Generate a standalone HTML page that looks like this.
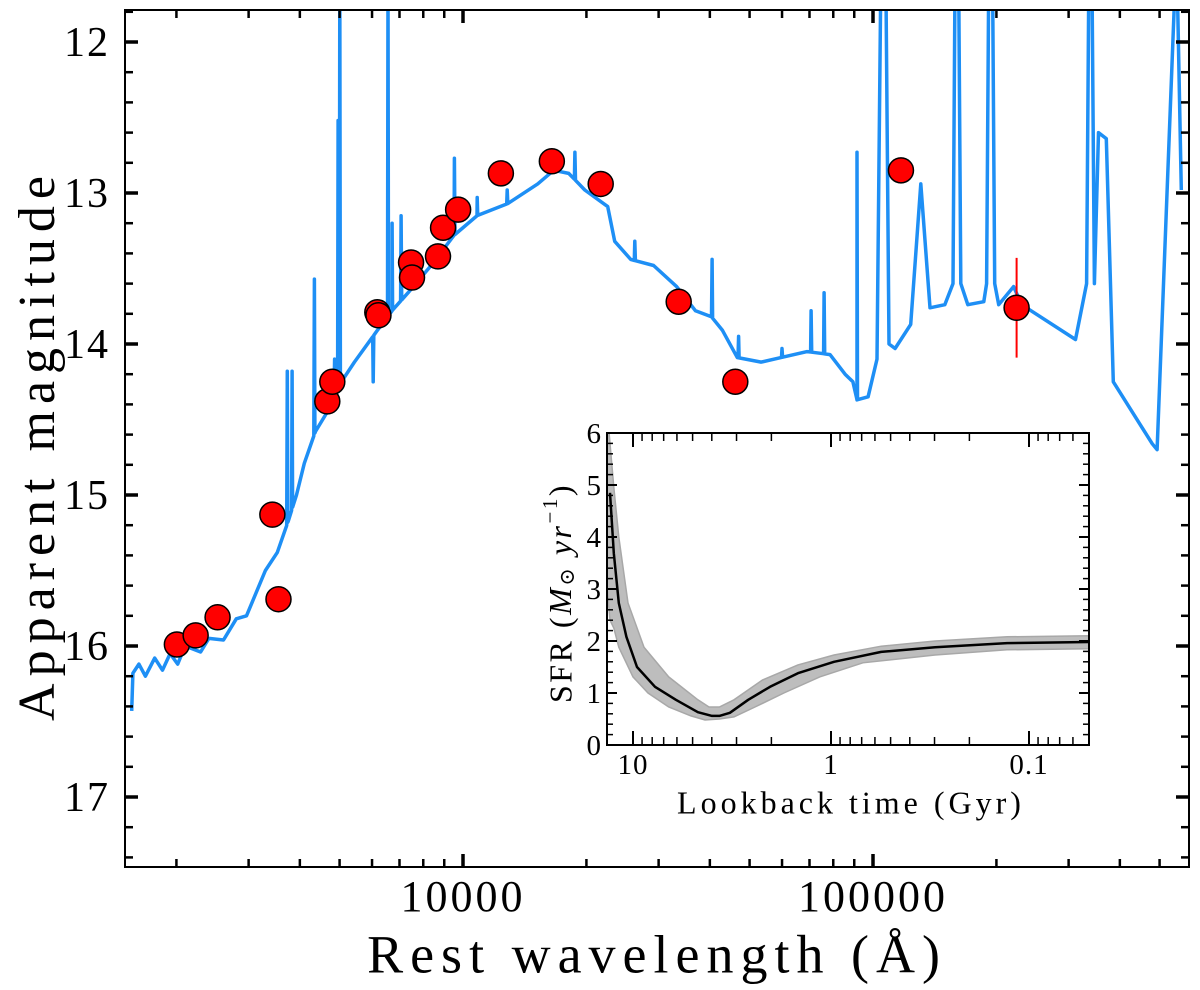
<!DOCTYPE html>
<html><head><meta charset="utf-8">
<style>
html,body{margin:0;padding:0;background:#fff;}
svg{display:block;font-family:"Liberation Serif","DejaVu Serif",serif;}
</style></head>
<body>
<svg id="chart" width="1200" height="990" viewBox="0 0 1200 990" xmlns="http://www.w3.org/2000/svg">
<defs>
<clipPath id="mainClip"><rect x="125" y="10" width="1064" height="857"/></clipPath>
<clipPath id="insetClip"><rect x="607" y="433" width="482" height="312"/></clipPath>
</defs>
<rect x="0" y="0" width="1200" height="990" fill="#fff"/>
<g id="main"></g>
<g id="inset"></g>
<text x="42" y="445" transform="rotate(-90 42 445)" text-anchor="middle" dominant-baseline="middle" font-size="52" letter-spacing="7">Apparent magnitude</text>
<text x="657" y="960" text-anchor="middle" dominant-baseline="middle" font-size="54" letter-spacing="7">Rest wavelength (Å)</text>
<text x="564" y="593" transform="rotate(-90 564 593)" text-anchor="middle" dominant-baseline="middle" font-size="32" letter-spacing="2.5">SFR (<tspan font-style="italic">M</tspan><tspan font-size="21" dy="5">⊙</tspan><tspan dy="-5"> </tspan><tspan font-style="italic">yr</tspan><tspan font-size="21" dy="-12">−1</tspan><tspan dy="12">)</tspan></text>
<text x="851" y="806" text-anchor="middle" dominant-baseline="middle" font-size="32" letter-spacing="4">Lookback time (Gyr)</text>
</svg>
<script>
// ---------- main plot data ----------
const photLam = [2005,2228,2520,3428,3548,4667,4800,6180,6220,7470,7510,8690,8940,9730,12370,16470,21670,33580,46150,117000,224000];
const photMag = [15.99,15.93,15.81,15.13,15.69,14.38,14.25,13.79,13.81,13.46,13.56,13.42,13.23,13.11,12.87,12.79,12.94,13.72,14.25,12.85,13.76];
const photErr = [0,0,0,0,0,0,0,0,0,0,0,0,0,0,0,0,0,0,0,0,0.33];
const contLam = [1556,1566,1620,1680,1770,1850,1930,2014,2100,2291,2400,2606,2800,2965,3296,3525,3750,3926,4102,4365,4667,4966,5433,6180,6715,7345,8360,9510,10820,12860,15210,16640,18110,19820,22540,23440,25640,29170,33190,36900,40360,42950,46670,53370,69050,78550,85500,89350,91400,97300,102300,104500,107500,109400,113200,123600,130800,137700,149700,156700,158500,161800,163700,170300,186300,189300,191500,195800,198100,202600,220300,230500,311900,331800,336000,342000,346700,354800,370700,385500,479700,493200,545800,552000,564900];
const contMag = [16.43,16.18,16.12,16.2,16.08,16.16,16.05,16.12,16.0,16.04,15.95,15.96,15.82,15.8,15.5,15.38,15.17,15.00,14.79,14.58,14.45,14.28,14.12,13.91,13.78,13.66,13.48,13.28,13.15,13.07,12.94,12.85,12.87,12.98,13.09,13.32,13.44,13.48,13.62,13.78,13.82,13.91,14.09,14.12,14.05,14.07,14.20,14.25,14.37,14.35,14.1,11.6,11.6,14.0,14.03,13.87,12.94,13.76,13.74,13.6,11.6,11.6,13.6,13.74,13.72,13.6,11.6,11.6,13.6,13.74,13.62,13.74,13.97,13.6,11.6,11.6,13.6,12.60,12.64,14.25,14.66,14.70,11.6,11.6,12.98];
const lineLam = [3727,3830,4340,4861,4959,5007,6040,6563,6716,7065,9531,10830,12820,18750,26250,40500,47000,60000,70650,76000,91400];
const linePeak = [14.18,14.18,13.57,14.1,12.52,11.6,14.25,11.6,13.2,13.15,12.77,13.03,12.98,12.73,13.32,13.44,13.95,14.03,13.78,13.66,12.73];
const yTicks = [12,13,14,15,16,17];
const xTickLabels = ["10000","100000"];

// ---------- inset data ----------
const medT = [13.06,12.5,11.8,10.8,9.55,7.74,6.07,4.70,3.99,3.66,3.24,2.62,2.03,1.47,0.966,0.558,0.298,0.129,0.05];
const medS = [4.85,3.69,2.73,2.08,1.50,1.12,0.87,0.63,0.56,0.56,0.62,0.87,1.12,1.38,1.60,1.79,1.88,1.96,1.98];
const upT = [13.5,13.2,12.5,11.8,10.6,8.8,6.6,4.7,4.13,3.66,3.09,2.22,1.47,0.966,0.558,0.298,0.129,0.05];
const upS = [6.2,6.0,4.96,4.0,2.73,1.88,1.31,0.87,0.73,0.73,0.87,1.25,1.54,1.73,1.90,2.0,2.08,2.10];
const loT = [13.5,13.06,12.5,11.8,10.0,8.4,6.6,5.1,4.33,3.66,3.09,2.42,1.73,1.14,0.69,0.298,0.129,0.05];
const loS = [3.0,2.40,2.25,1.88,1.31,1.00,0.73,0.56,0.48,0.50,0.54,0.73,1.00,1.31,1.58,1.73,1.83,1.85];
const insetYTicks = [0,1,2,3,4,5,6];
const insetXTicks = [10,1,0.1];
const insetXTickLabels = ["10","1","0.1"];

const NS = "http://www.w3.org/2000/svg";
function mk(tag, attrs, parent){const e=document.createElementNS(NS,tag);for(const k in attrs)e.setAttribute(k,attrs[k]);parent.appendChild(e);return e;}

const MX0=125,MX1=1189,MY0=10,MY1=867;
const xS = l => 463 + (Math.log10(l)-4)*410;
const yS = m => 42 + (m-12)*151;
const main = document.getElementById('main');

function contAt(l){
  for(let i=0;i<contLam.length-1;i++){ if(l>=contLam[i]&&l<=contLam[i+1]){const f=(Math.log(l)-Math.log(contLam[i]))/(Math.log(contLam[i+1])-Math.log(contLam[i]));return contMag[i]+f*(contMag[i+1]-contMag[i]);}}
  return contMag[contMag.length-1];
}
let pts = contLam.map((l,i)=>[l,contMag[i]]);
lineLam.forEach((l,i)=>{const c1=contAt(l*0.997),c2=contAt(l*1.003);pts.push([l*0.997,c1],[l,linePeak[i]],[l*1.003,c2]);});
pts.sort((a,b)=>a[0]-b[0]);
const gSpec = mk('g',{'clip-path':'url(#mainClip)'},main);
const spec = mk('path',{d:pts.map((p,i)=>(i?'L':'M')+xS(p[0]).toFixed(1)+' '+yS(p[1]).toFixed(1)).join(''),fill:'none',stroke:'#1e8ff5','stroke-width':3.5,'stroke-linejoin':'round'},gSpec);



photLam.forEach((l,i)=>{
  if(photErr[i]>0){
    const eb=mk('line',{x1:xS(l),x2:xS(l),y1:yS(photMag[i]-photErr[i]),y2:yS(photMag[i]+photErr[i]),stroke:'#ff0000','stroke-width':2},main);
    
    
  }
  const c=mk('circle',{cx:xS(l),cy:yS(photMag[i]),r:12.5,fill:'#ff0000',stroke:'#000','stroke-width':1.5},main);
  
  
});

const tk = mk('g',{stroke:'#000'},main);


for(let m=11.8;m<=17.45;m+=0.2){
  const mr=Math.round(m*10)/10; const major=Math.abs(mr-Math.round(mr))<0.01;
  const y=yS(mr); if(y<MY0+1||y>MY1-1) continue;
  const L=major?13:8, w=major?3.5:2.5;
  mk('line',{x1:MX0,x2:MX0+L,y1:y,y2:y,'stroke-width':w},tk);
  mk('line',{x1:MX1,x2:MX1-L,y1:y,y2:y,'stroke-width':w},tk);
}
for(let e=3;e<=5;e++){for(let k=1;k<10;k++){
  const l=k*Math.pow(10,e); const x=xS(l); if(x<MX0+1||x>MX1-1) continue;
  const major=k===1; const L=major?13:8,w=major?3.5:2.5;
  mk('line',{x1:x,x2:x,y1:MY1,y2:MY1-L,'stroke-width':w},tk);
  mk('line',{x1:x,x2:x,y1:MY0,y2:MY0+L,'stroke-width':w},tk);
}}
const fr=mk('rect',{x:MX0,y:MY0,width:MX1-MX0,height:MY1-MY0,fill:'none',stroke:'#000','stroke-width':2},main);


yTicks.forEach(v=>{
  const t=mk('text',{x:110,y:yS(v)+14,'text-anchor':'end','font-size':42,'letter-spacing':2},main);
  t.textContent=v;
  
  
});
[10000,100000].forEach((v,i)=>{
  const t=mk('text',{x:xS(v),y:911,'text-anchor':'middle','font-size':44,'letter-spacing':3},main);
  t.textContent=xTickLabels[i];
  
  
});

const IX0=607,IX1=1089,IY0=433,IY1=745;
const ix = t => 633 - (Math.log10(t)-1)*198;
const iy = s => 745 - s*52;
const ins=document.getElementById('inset');
mk('rect',{x:IX0,y:IY0,width:IX1-IX0,height:IY1-IY0,fill:'#fff'},ins);
const gi=mk('g',{'clip-path':'url(#insetClip)'},ins);
let band='M'+upT.map((t,i)=>ix(t).toFixed(1)+' '+iy(upS[i]).toFixed(1)).join('L');
for(let i=loT.length-1;i>=0;i--) band+='L'+ix(loT[i]).toFixed(1)+' '+iy(loS[i]).toFixed(1);
band+='Z';
const bd=mk('path',{d:band,fill:'#bdbdbd',stroke:'#a8a8a8','stroke-width':1.5},gi);


const md=mk('path',{d:'M'+medT.map((t,i)=>ix(t).toFixed(1)+' '+iy(medS[i]).toFixed(1)).join('L'),fill:'none',stroke:'#000','stroke-width':2.5,'stroke-linejoin':'round'},gi);


const it=mk('g',{stroke:'#000'},ins);


for(let s=0;s<=6.001;s+=0.2){
  const sr=Math.round(s*10)/10; const major=Math.abs(sr-Math.round(sr))<0.01; const y=iy(sr);
  const L=major?10:6,w=major?2:1.5;
  mk('line',{x1:IX0,x2:IX0+L,y1:y,y2:y,'stroke-width':w},it);
  mk('line',{x1:IX1,x2:IX1-L,y1:y,y2:y,'stroke-width':w},it);
}
for(let e=-2;e<=1;e++){for(let k=1;k<10;k++){
  const t=k*Math.pow(10,e); const x=ix(t); if(x<IX0+1||x>IX1-1) continue;
  const major=k===1; const L=major?14:8,w=major?2:1.5;
  mk('line',{x1:x,x2:x,y1:IY1,y2:IY1-L,'stroke-width':w},it);
  mk('line',{x1:x,x2:x,y1:IY0,y2:IY0+L,'stroke-width':w},it);
}}
const ifr=mk('rect',{x:IX0,y:IY0,width:IX1-IX0,height:IY1-IY0,fill:'none',stroke:'#000','stroke-width':2},ins);


insetYTicks.forEach(v=>{
  const t=mk('text',{x:IX0-6,y:iy(v)+10,'text-anchor':'end','font-size':29},ins);
  t.textContent=v;
  
  
});
insetXTicks.forEach((v,i)=>{
  const t=mk('text',{x:ix(v),y:774,'text-anchor':'middle','font-size':29,'letter-spacing':1},ins);
  t.textContent=insetXTickLabels[i];
  
  
});
</script>
</body></html>
